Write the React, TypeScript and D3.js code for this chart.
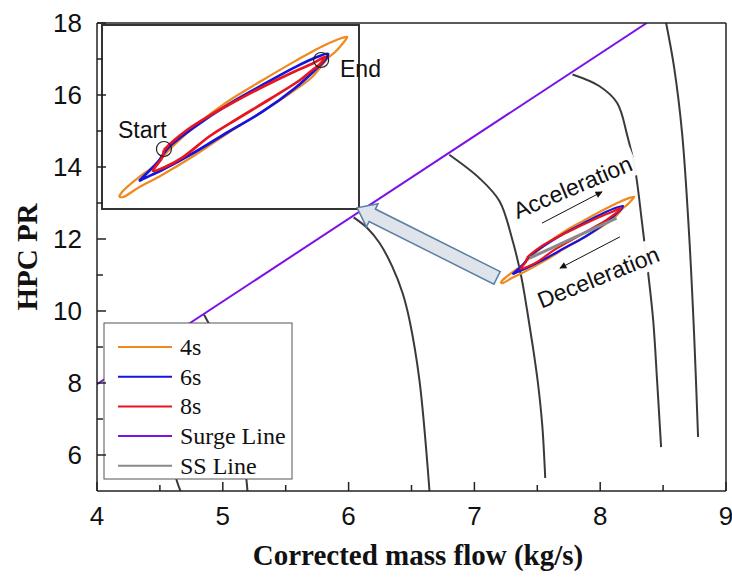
import React from 'react';
import * as d3 from 'd3';

const W = 732;
const H = 578;

// axes
const xDomain = [4, 9];
const yDomain = [5, 18];
const xTicks = [4, 5, 6, 7, 8, 9];
const xMinorTicks = [4.5, 5.5, 6.5, 7.5, 8.5];
const yTicks = [6, 8, 10, 12, 14, 16, 18];
const yMinorTicks = [7, 9, 11, 13, 15, 17];

// surge line
const surgeX = [4, 8.37];
const surgeY = [7.97, 18];

// speed lines
const speed1X = [4.4, 4.5, 4.58, 4.632, 4.664];
const speed1Y = [8.9, 7.6, 6.3, 5.31, 5.0];
const speed2X = [4.85, 4.95, 5.06, 5.14, 5.188, 5.196];
const speed2Y = [9.9, 9.2, 8.0, 6.6, 5.31, 5.0];
const speed3X = [6.04, 6.15, 6.246, 6.349, 6.429, 6.484, 6.563, 6.643];
const speed3Y = [12.6, 12.3, 11.89, 11.22, 10.5, 9.75, 8.08, 5.0];
const speed4X = [6.8, 7.04, 7.2, 7.3, 7.37, 7.42, 7.465, 7.505, 7.54, 7.563];
const speed4Y = [14.34, 13.69, 13.05, 12.0, 11.0, 10.0, 9.0, 8.0, 6.8, 5.36];
const speed5X = [7.78, 7.992, 8.135, 8.214, 8.278, 8.333, 8.381, 8.421, 8.452, 8.484];
const speed5Y = [16.57, 16.25, 15.78, 14.89, 13.92, 12.44, 11.06, 9.75, 8.08, 6.22];
const speed6X = [8.5, 8.524, 8.587, 8.651, 8.706, 8.746, 8.778];
const speed6Y = [18.4, 18.0, 16.78, 14.94, 12.17, 9.39, 6.5];

// transient loops (closed)
const loop4sX = [7.209, 7.223, 7.297, 7.377, 7.456, 7.563, 7.716, 7.874, 8.028, 8.153, 8.246, 8.27, 8.251, 8.214, 8.181, 8.107, 8.028, 7.874, 7.716, 7.563, 7.409, 7.297, 7.228, 7.209];
const loop4sY = [10.779, 10.854, 11.063, 11.258, 11.527, 11.84, 12.21, 12.52, 12.81, 13.03, 13.156, 13.171, 13.081, 12.947, 12.857, 12.573, 12.379, 12.05, 11.736, 11.407, 11.108, 10.914, 10.779, 10.779];
const loop6sX = [7.302, 7.33, 7.39, 7.437, 7.563, 7.716, 7.874, 8.028, 8.121, 8.181, 8.167, 8.121, 8.028, 7.874, 7.716, 7.563, 7.409, 7.33, 7.302];
const loop6sY = [11.019, 11.108, 11.303, 11.512, 11.83, 12.16, 12.45, 12.72, 12.86, 12.917, 12.827, 12.678, 12.409, 12.05, 11.751, 11.452, 11.183, 11.063, 11.019];
const loop8sX = [7.418, 7.456, 7.525, 7.632, 7.716, 7.874, 8.028, 8.107, 8.167, 8.144, 8.097, 8.051, 7.911, 7.758, 7.632, 7.507, 7.423, 7.367, 7.381, 7.409, 7.418];
const loop8sY = [11.482, 11.601, 11.781, 12.0, 12.15, 12.42, 12.66, 12.77, 12.872, 12.767, 12.648, 12.528, 12.244, 11.945, 11.691, 11.377, 11.228, 11.168, 11.243, 11.362, 11.482];
const ssX = [7.44, 7.8, 8.13];
const ssY = [11.47, 12.05, 12.58];

// annotations
const startPt = [7.418, 11.497];
const endPt = [8.149, 12.827];
const bigArrowFrom = [7.18, 10.92];
const bigArrowTo = [6.067, 12.87];
const accelArrow = [[7.537, 12.44], [8.014, 13.31]];
const decelArrow = [[8.157, 12.06], [7.68, 11.19]];

const legendLabels = ['4s', '6s', '8s', 'Surge Line', 'SS Line'];
const legendColors = ['#f0891e', '#1414dc', '#e8141e', '#7a12e6', '#8a8a8a'];

const C4 = legendColors[0];
const C6 = legendColors[1];
const C8 = legendColors[2];
const CSURGE = legendColors[3];
const CSS = legendColors[4];
const CSPEED = '#3a3a3a';

const zip = (xs: number[], ys: number[]) => xs.map((x, i) => [x, ys[i]] as [number, number]);

export default function App() {
  const x = d3.scaleLinear().domain(xDomain).range([97, 726]);
  const y = d3.scaleLinear().domain(yDomain).range([491, 23]);
  const ix = d3.scaleLinear().domain([7.13, 8.325]).range([102, 359]);
  const iy = d3.scaleLinear().domain([10.6, 13.35]).range([209, 25]);

  const smooth = d3.line<[number, number]>().x(d => x(d[0])).y(d => y(d[1])).curve(d3.curveCatmullRom.alpha(0.5));
  const loopLine = (sx: any, sy: any) =>
    d3.line<[number, number]>().x(d => sx(d[0])).y(d => sy(d[1])).curve(d3.curveCatmullRom.alpha(0.5));
  const mainLoop = loopLine(x, y);
  const insetLoop = loopLine(ix, iy);
  const straight = d3.line<[number, number]>().x(d => x(d[0])).y(d => y(d[1]));

  const speeds = [
    zip(speed1X, speed1Y), zip(speed2X, speed2Y), zip(speed3X, speed3Y),
    zip(speed4X, speed4Y), zip(speed5X, speed5Y), zip(speed6X, speed6Y),
  ];

  // big block arrow
  const T = [x(bigArrowFrom[0]), y(bigArrowFrom[1])];
  const Hd = [x(bigArrowTo[0]), y(bigArrowTo[1])];
  const len = Math.hypot(Hd[0] - T[0], Hd[1] - T[1]);
  const u = [(Hd[0] - T[0]) / len, (Hd[1] - T[1]) / len];
  const n = [-u[1], u[0]];
  const B = [Hd[0] - u[0] * 17, Hd[1] - u[1] * 17];
  const sw = 7, hw = 13;
  const pts = [
    [T[0] + n[0] * sw, T[1] + n[1] * sw],
    [B[0] + n[0] * sw, B[1] + n[1] * sw],
    [B[0] + n[0] * hw, B[1] + n[1] * hw],
    Hd,
    [B[0] - n[0] * hw, B[1] - n[1] * hw],
    [B[0] - n[0] * sw, B[1] - n[1] * sw],
    [T[0] - n[0] * sw, T[1] - n[1] * sw],
  ];

  const tickFont = { fontFamily: 'Liberation Sans, Arial, sans-serif', fontSize: 26 };
  const serif = 'Liberation Serif, Times New Roman, serif';

  const textBox = (cx: number, cy: number, angle: number, label: string, w: number) => (
    <g transform={`translate(${cx},${cy}) rotate(${angle})`}>
      <rect x={-w / 2 - 4} y={-16} width={w + 8} height={30} fill="#fff" opacity={0.95} />
      <text x={0} y={8} textAnchor="middle" fontFamily="Liberation Sans, Arial, sans-serif" fontSize={23} fill="#111">{label}</text>
    </g>
  );

  return (
    <svg width={W} height={H} style={{ position: 'absolute', left: 0, top: 0, display: 'block', background: '#fff' }}>
      <defs>
        <clipPath id="plotClip">
          <rect x={97} y={23} width={629} height={468} />
        </clipPath>
        <marker id="arrowHead" viewBox="0 0 10 10" refX={9} refY={5} markerWidth={9} markerHeight={7} orient="auto" markerUnits="userSpaceOnUse">
          <path d="M0,0 L10,5 L0,10 z" fill="#111" />
        </marker>
      </defs>

      <g clipPath="url(#plotClip)">
        {speeds.map((s, i) => (
          <path key={i} d={smooth(s) || ''} fill="none" stroke={CSPEED} strokeWidth={2} />
        ))}
        <path d={straight(zip(surgeX, surgeY)) || ''} fill="none" stroke={CSURGE} strokeWidth={2} />
      </g>

      {/* text annotations with white boxes */}
      {textBox(x(7.78), y(13.44), -23, 'Acceleration', 128)}
      {textBox(x(7.985), y(10.94), -22, 'Deceleration', 132)}
      <line x1={x(accelArrow[0][0])} y1={y(accelArrow[0][1])} x2={x(accelArrow[1][0])} y2={y(accelArrow[1][1])} stroke="#111" strokeWidth={1} markerEnd="url(#arrowHead)" />
      <line x1={x(decelArrow[0][0])} y1={y(decelArrow[0][1])} x2={x(decelArrow[1][0])} y2={y(decelArrow[1][1])} stroke="#111" strokeWidth={1} markerEnd="url(#arrowHead)" />

      {/* main loops */}
      <path d={mainLoop(zip(loop4sX, loop4sY)) || ''} fill="none" stroke={C4} strokeWidth={2.2} />
      <path d={mainLoop(zip(loop6sX, loop6sY)) || ''} fill="none" stroke={C6} strokeWidth={2.2} />
      <path d={mainLoop(zip(loop8sX, loop8sY)) || ''} fill="none" stroke={C8} strokeWidth={2.2} />
      <path d={smooth(zip(ssX, ssY)) || ''} fill="none" stroke={CSS} strokeWidth={3} />

      {/* inset */}
      <rect x={102} y={25} width={257} height={184} fill="#fff" stroke="#333" strokeWidth={2} />
      <path d={insetLoop(zip(loop4sX, loop4sY)) || ''} fill="none" stroke={C4} strokeWidth={2.2} />
      <path d={insetLoop(zip(loop6sX, loop6sY)) || ''} fill="none" stroke={C6} strokeWidth={2.7} />
      <path d={insetLoop(zip(loop8sX, loop8sY)) || ''} fill="none" stroke={C8} strokeWidth={2.7} />
      <circle cx={ix(startPt[0])} cy={iy(startPt[1])} r={7.5} fill="none" stroke="#222" strokeWidth={1.2} />
      <circle cx={ix(endPt[0])} cy={iy(endPt[1])} r={7.5} fill="none" stroke="#222" strokeWidth={1.2} />
      <text x={118} y={138} fontFamily="Liberation Sans, Arial, sans-serif" fontSize={23} fill="#111">Start</text>
      <text x={340} y={77} fontFamily="Liberation Sans, Arial, sans-serif" fontSize={23} fill="#111">End</text>

      {/* big arrow */}
      <polygon points={pts.map(p => p.join(',')).join(' ')} fill="#dfe4ea" stroke="#5b7ea6" strokeWidth={1.5} strokeLinejoin="miter" />

      {/* legend */}
      <rect x={104} y={323} width={188} height={156} fill="#fff" stroke="#555" strokeWidth={1} />
      {legendLabels.map((lab, i) => (
        <g key={lab} transform={`translate(0,${347 + i * 29.7})`}>
          <line x1={118} x2={172} y1={0} y2={0} stroke={legendColors[i]} strokeWidth={2} />
          <text x={180} y={8} fontFamily={serif} fontSize={24} fill="#111">{lab}</text>
        </g>
      ))}

      {/* frame */}
      <line x1={97} x2={726} y1={23} y2={23} stroke="#222" strokeWidth={1.5} />
      <line x1={726} x2={726} y1={23} y2={491} stroke="#222" strokeWidth={1.5} />
      <line x1={97} x2={726} y1={491} y2={491} stroke="#222" strokeWidth={1.5} />
      <line x1={97} x2={97} y1={23} y2={491} stroke="#222" strokeWidth={1.5} />

      {/* ticks */}
      {xTicks.map(t => (
        <g key={'xt' + t}>
          <line x1={x(t)} x2={x(t)} y1={491} y2={482} stroke="#222" strokeWidth={1.5} />
          <text x={x(t)} y={525} textAnchor="middle" {...tickFont} fill="#111">{t}</text>
        </g>
      ))}
      {xMinorTicks.map(t => (
        <line key={'xm' + t} x1={x(t)} x2={x(t)} y1={491} y2={485} stroke="#222" strokeWidth={1.5} />
      ))}
      {yTicks.map(t => (
        <g key={'yt' + t}>
          <line x1={97} x2={106} y1={y(t)} y2={y(t)} stroke="#222" strokeWidth={1.5} />
          <text x={82} y={y(t) + 9} textAnchor="end" {...tickFont} fill="#111">{t}</text>
        </g>
      ))}
      {yMinorTicks.map(t => (
        <line key={'ym' + t} x1={97} x2={103} y1={y(t)} y2={y(t)} stroke="#222" strokeWidth={1.5} />
      ))}

      {/* axis titles */}
      <text x={418} y={565} textAnchor="middle" fontFamily={serif} fontWeight="bold" fontSize={29} fill="#111">Corrected mass flow (kg/s)</text>
      <text transform={`translate(37,257) rotate(-90)`} textAnchor="middle" fontFamily={serif} fontWeight="bold" fontSize={29} fill="#111">HPC PR</text>
    </svg>
  );
}
